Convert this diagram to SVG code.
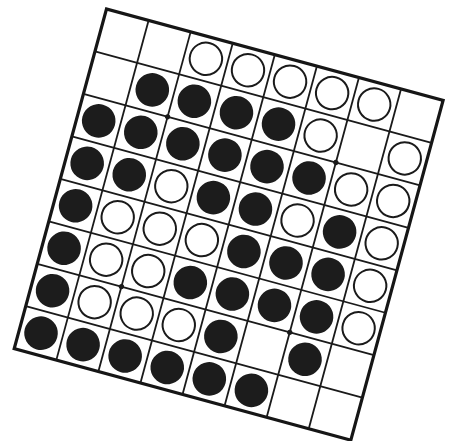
<svg xmlns="http://www.w3.org/2000/svg" width="454" height="441" viewBox="0 0 454 441">
<style>
.border{fill:#fff;stroke:#161616;stroke-width:3.2;stroke-linejoin:miter}
.grid line{stroke:#1a1a1a;stroke-width:1.8}
.b{fill:#1c1c1c}
.w{fill:#fff;stroke:#1a1a1a;stroke-width:2}
.dot{fill:#1a1a1a}
</style>
<rect width="454" height="441" fill="#fff"/>
<g id="board" transform="translate(106.5,9) rotate(15.2)">
  <rect class="border" x="0" y="0" width="348.8" height="352"/>
  <g id="grid" class="grid">
    <line x1="43.6" y1="0" x2="43.6" y2="352"/>
    <line x1="87.2" y1="0" x2="87.2" y2="352"/>
    <line x1="130.8" y1="0" x2="130.8" y2="352"/>
    <line x1="174.4" y1="0" x2="174.4" y2="352"/>
    <line x1="218" y1="0" x2="218" y2="352"/>
    <line x1="261.6" y1="0" x2="261.6" y2="352"/>
    <line x1="305.2" y1="0" x2="305.2" y2="352"/>
    <line x1="0" y1="44" x2="348.8" y2="44"/>
    <line x1="0" y1="88" x2="348.8" y2="88"/>
    <line x1="0" y1="132" x2="348.8" y2="132"/>
    <line x1="0" y1="176" x2="348.8" y2="176"/>
    <line x1="0" y1="220" x2="348.8" y2="220"/>
    <line x1="0" y1="264" x2="348.8" y2="264"/>
    <line x1="0" y1="308" x2="348.8" y2="308"/>
  </g>
  <g id="star-points">
    <circle class="dot" cx="87.2" cy="88" r="2.6"/>
    <circle class="dot" cx="261.6" cy="88" r="2.6"/>
    <circle class="dot" cx="87.2" cy="264" r="2.6"/>
    <circle class="dot" cx="261.6" cy="264" r="2.6"/>
  </g>
  <g id="row0">
    <circle class="w" cx="109" cy="22" r="16.2"/>
    <circle class="w" cx="152.6" cy="22" r="16.2"/>
    <circle class="w" cx="196.2" cy="22" r="16.2"/>
    <circle class="w" cx="239.8" cy="22" r="16.2"/>
    <circle class="w" cx="283.4" cy="22" r="16.2"/>
  </g>
  <g id="row1">
    <circle class="b" cx="65.4" cy="66" r="16.8"/>
    <circle class="b" cx="109" cy="66" r="16.8"/>
    <circle class="b" cx="152.6" cy="66" r="16.8"/>
    <circle class="b" cx="196.2" cy="66" r="16.8"/>
    <circle class="w" cx="239.8" cy="66" r="16.2"/>
    <circle class="w" cx="327" cy="66" r="16.2"/>
  </g>
  <g id="row2">
    <circle class="b" cx="21.8" cy="110" r="16.8"/>
    <circle class="b" cx="65.4" cy="110" r="16.8"/>
    <circle class="b" cx="109" cy="110" r="16.8"/>
    <circle class="b" cx="152.6" cy="110" r="16.8"/>
    <circle class="b" cx="196.2" cy="110" r="16.8"/>
    <circle class="b" cx="239.8" cy="110" r="16.8"/>
    <circle class="w" cx="283.4" cy="110" r="16.2"/>
    <circle class="w" cx="327" cy="110" r="16.2"/>
  </g>
  <g id="row3">
    <circle class="b" cx="21.8" cy="154" r="16.8"/>
    <circle class="b" cx="65.4" cy="154" r="16.8"/>
    <circle class="w" cx="109" cy="154" r="16.2"/>
    <circle class="b" cx="152.6" cy="154" r="16.8"/>
    <circle class="b" cx="196.2" cy="154" r="16.8"/>
    <circle class="w" cx="239.8" cy="154" r="16.2"/>
    <circle class="b" cx="283.4" cy="154" r="16.8"/>
    <circle class="w" cx="327" cy="154" r="16.2"/>
  </g>
  <g id="row4">
    <circle class="b" cx="21.8" cy="198" r="16.8"/>
    <circle class="w" cx="65.4" cy="198" r="16.2"/>
    <circle class="w" cx="109" cy="198" r="16.2"/>
    <circle class="w" cx="152.6" cy="198" r="16.2"/>
    <circle class="b" cx="196.2" cy="198" r="16.8"/>
    <circle class="b" cx="239.8" cy="198" r="16.8"/>
    <circle class="b" cx="283.4" cy="198" r="16.8"/>
    <circle class="w" cx="327" cy="198" r="16.2"/>
  </g>
  <g id="row5">
    <circle class="b" cx="21.8" cy="242" r="16.8"/>
    <circle class="w" cx="65.4" cy="242" r="16.2"/>
    <circle class="w" cx="109" cy="242" r="16.2"/>
    <circle class="b" cx="152.6" cy="242" r="16.8"/>
    <circle class="b" cx="196.2" cy="242" r="16.8"/>
    <circle class="b" cx="239.8" cy="242" r="16.8"/>
    <circle class="b" cx="283.4" cy="242" r="16.8"/>
    <circle class="w" cx="327" cy="242" r="16.2"/>
  </g>
  <g id="row6">
    <circle class="b" cx="21.8" cy="286" r="16.8"/>
    <circle class="w" cx="65.4" cy="286" r="16.2"/>
    <circle class="w" cx="109" cy="286" r="16.2"/>
    <circle class="w" cx="152.6" cy="286" r="16.2"/>
    <circle class="b" cx="196.2" cy="286" r="16.8"/>
    <circle class="b" cx="283.4" cy="286" r="16.8"/>
  </g>
  <g id="row7">
    <circle class="b" cx="21.8" cy="330" r="16.8"/>
    <circle class="b" cx="65.4" cy="330" r="16.8"/>
    <circle class="b" cx="109" cy="330" r="16.8"/>
    <circle class="b" cx="152.6" cy="330" r="16.8"/>
    <circle class="b" cx="196.2" cy="330" r="16.8"/>
    <circle class="b" cx="239.8" cy="330" r="16.8"/>
  </g>
</g>
</svg>
